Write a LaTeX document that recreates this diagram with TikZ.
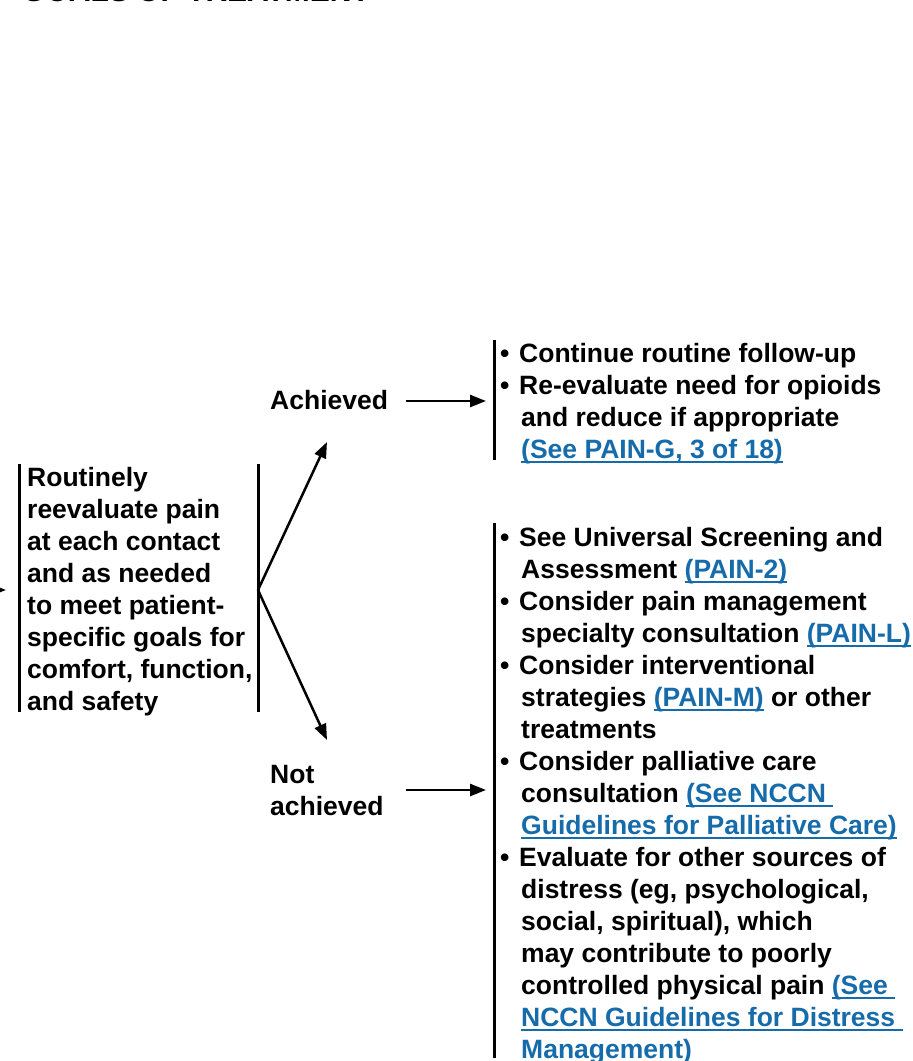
\documentclass[tikz,border=0pt]{standalone}
\usepackage{fontspec}
\setmainfont{Liberation Sans}
\usetikzlibrary{arrows.meta}
\definecolor{linkblue}{RGB}{22,107,170}
\newcommand{\lnk}[1]{{\color{linkblue}\setbox0\hbox{#1}\rlap{\rule[-4.5pt]{\wd0}{1.6pt}}\box0}}
\newcommand{\bul}{\makebox[19pt][l]{•}}
\newcommand{\ind}{\hspace*{21pt}}
\begin{document}
\begin{tikzpicture}[x=1pt,y=-1pt,
  txt/.style={font=\fontsize{26.5}{32}\selectfont\bfseries,align=left,inner sep=0pt,anchor=base west},
  bar/.style={line width=3pt},
  arr/.style={line width=2.5pt,-{Triangle[length=16pt,width=12pt]}}]
\useasboundingbox (0,0) rectangle (913,1061);
\node[txt,font=\fontsize{30}{36}\selectfont\bfseries] (title) at (22,1.5) {GOALS OF TREATMENT};
% left block
\coordinate (lin) at (-40,590);
\coordinate (lbar1) at (19,464);
\coordinate (lbar2) at (19,712);
\draw[arr] (lin) -- (6,590) coordinate (ltip);
\draw[bar] (lbar1) -- (lbar2);
\node[txt] (reeval) at (27,710) {Routinely\\reevaluate pain\\at each contact\\and as needed\\to meet patient-\\specific goals for\\comfort, function,\\and safety};
\coordinate (mbar1) at (258,464);
\coordinate (mbar2) at (258,712);
\draw[bar] (mbar1) -- (mbar2);
\coordinate (branch) at (258,590);
\coordinate (uptip) at (327,442);
\coordinate (dntip) at (327,740);
\draw[arr] (branch) -- (uptip);
\draw[arr] (branch) -- (dntip);
% labels
\node[txt] (ach) at (270,409) {Achieved};
\node[txt] (nach) at (270,815) {Not\\achieved};
\coordinate (a1) at (406,401);
\coordinate (a2) at (486,401);
\coordinate (n1) at (406,790);
\coordinate (n2) at (486,790);
\draw[arr] (a1) -- (a2);
\draw[arr] (n1) -- (n2);
% right upper
\coordinate (rb1) at (494,340);
\coordinate (rb2) at (494,460);
\draw[bar] (rb1) -- (rb2);
\node[txt] (achlist) at (500,458) {\bul Continue routine follow-up\\\bul Re-evaluate need for opioids\\\ind and reduce if appropriate\\\ind\lnk{(See PAIN-G, 3 of 18)}};
% right lower
\coordinate (rc1) at (494,523);
\coordinate (rc2) at (494,1058);
\draw[bar] (rc1) -- (rc2);
\node[txt] (nachlist) at (500,1058) {\bul See Universal Screening and\\
\ind Assessment \lnk{(PAIN-2)}\\
\bul Consider pain management\\
\ind specialty consultation \lnk{(PAIN-L)}\\
\bul Consider interventional\\
\ind strategies \lnk{(PAIN-M)} or other\\
\ind treatments\\
\bul Consider palliative care\\
\ind consultation \lnk{(See NCCN }\\
\ind\lnk{Guidelines for Palliative Care)}\\
\bul Evaluate for other sources of\\
\ind distress (eg, psychological,\\
\ind social, spiritual), which\\
\ind may contribute to poorly\\
\ind controlled physical pain \lnk{(See }\\
\ind\lnk{NCCN Guidelines for Distress }\\
\ind\lnk{Management)}};
\end{tikzpicture}
\end{document}
